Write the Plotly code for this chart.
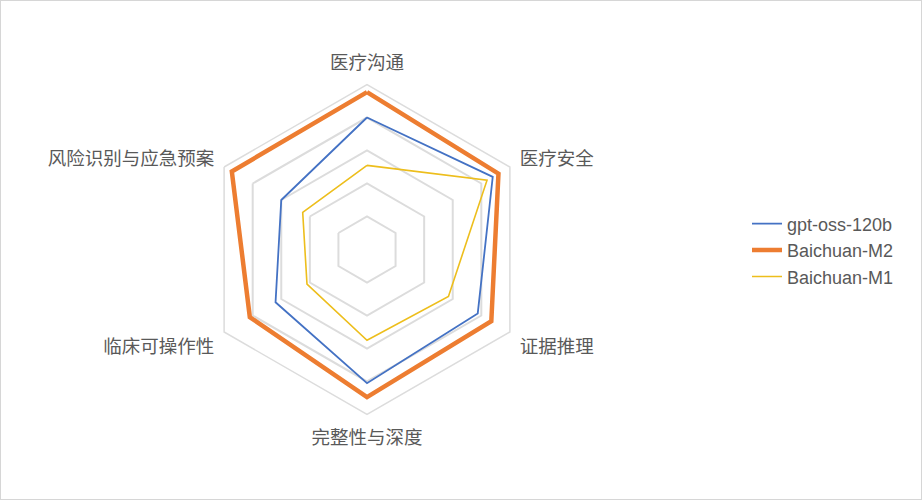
import plotly.graph_objects as go

# axes, clockwise from the top
categories = ["医疗沟通", "医疗安全", "证据推理", "完整性与深度", "临床可操作性", "风险识别与应急预案"]

# scores, as a share of the outer ring
gpt_oss_120b = [0.80, 0.88, 0.775, 0.81, 0.64, 0.60]
baichuan_m2 = [0.954, 0.92, 0.87, 0.895, 0.82, 0.946]
baichuan_m1 = [0.51, 0.84, 0.57, 0.55, 0.42, 0.45]

ring_values = [0.2, 0.4, 0.6, 0.8, 1.0]

series = [
    ("gpt-oss-120b", gpt_oss_120b, "#4472C4", 1.8),
    ("Baichuan-M2", baichuan_m2, "#ED7D31", 4.5),
    ("Baichuan-M1", baichuan_m1, "#EDBE1C", 1.6),
]

GRID = "#DCDCDC"
TEXT = "#595959"

fig = go.Figure()
for name, values, color, width in series:
    fig.add_trace(
        go.Scatterpolar(
            r=values + values[:1],
            theta=categories + categories[:1],
            mode="lines",
            name=name,
            line=dict(color=color, width=width),
            hoverinfo="skip",
        )
    )

fig.update_layout(
    width=922,
    height=500,
    margin=dict(l=0, r=0, t=0, b=0),
    paper_bgcolor="white",
    plot_bgcolor="white",
    polar=dict(
        domain=dict(x=[0.2191, 0.5770], y=[0.171, 0.831]),
        bgcolor="white",
        gridshape="linear",
        radialaxis=dict(
            range=[0, 1],
            tickvals=ring_values,
            showticklabels=False,
            ticks="",
            showline=False,
            showgrid=True,
            gridcolor=GRID,
            gridwidth=1.5,
        ),
        angularaxis=dict(
            direction="clockwise",
            rotation=90,
            showgrid=False,
            showline=True,
            linecolor=GRID,
            linewidth=1.5,
            ticks="outside",
            ticklen=7,
            tickcolor="rgba(0,0,0,0)",
            tickfont=dict(family="Noto Sans CJK SC", size=18.5, color=TEXT),
        ),
    ),
    legend=dict(
        x=0.8102,
        xanchor="left",
        y=0.499,
        yanchor="middle",
        font=dict(family="Liberation Sans, Arial", size=18, color=TEXT),
        bgcolor="rgba(0,0,0,0)",
    ),
    shapes=[
        dict(
            type="rect",
            xref="paper",
            yref="paper",
            x0=0,
            y0=0,
            x1=1,
            y1=1,
            line=dict(color="#D6D6D6", width=2),
        )
    ],
)

# the page's default 8px body margin would push the figure off the frame
fig.write_html(
    "out.html",
    config={"displayModeBar": False},
    post_script="document.body.style.margin = '0';",
)
